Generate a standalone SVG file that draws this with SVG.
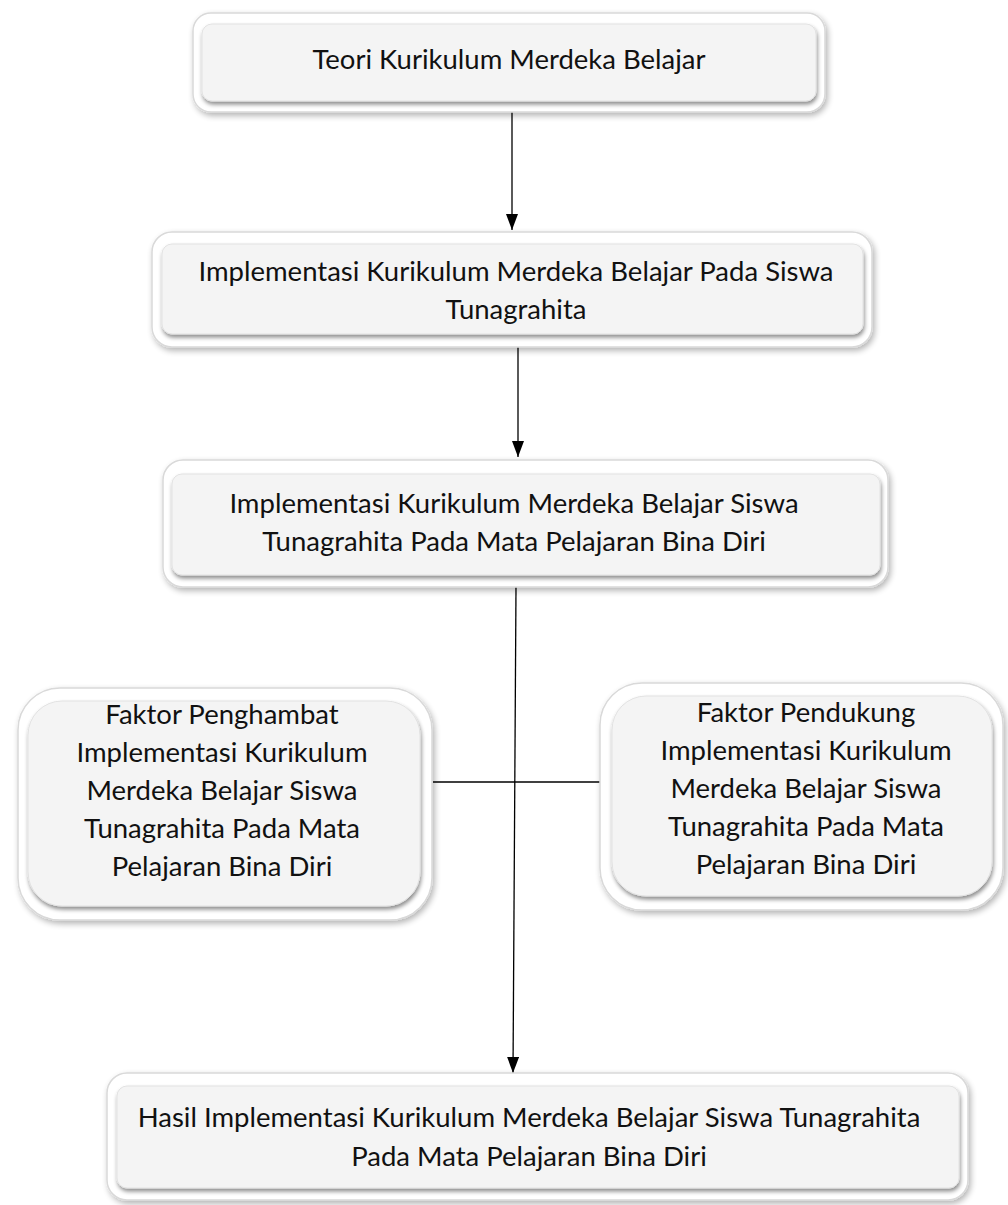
<svg xmlns="http://www.w3.org/2000/svg" width="1008" height="1205" viewBox="0 0 1008 1205">
<defs>
<filter id="outerSh" x="-10%" y="-10%" width="120%" height="130%">
<feGaussianBlur in="SourceAlpha" stdDeviation="3"/>
<feOffset dx="2" dy="3" result="b"/>
<feComponentTransfer><feFuncA type="linear" slope="0.3"/></feComponentTransfer>
<feMerge><feMergeNode/><feMergeNode in="SourceGraphic"/></feMerge>
</filter>
<filter id="innerSh" x="-10%" y="-10%" width="120%" height="130%">
<feGaussianBlur in="SourceAlpha" stdDeviation="2"/>
<feOffset dx="1" dy="3" result="b"/>
<feComponentTransfer><feFuncA type="linear" slope="0.45"/></feComponentTransfer>
<feMerge><feMergeNode/><feMergeNode in="SourceGraphic"/></feMerge>
</filter>
<marker id="arr" viewBox="0 0 16 12" refX="16" refY="6" markerWidth="16" markerHeight="12" markerUnits="userSpaceOnUse" orient="auto">
<path d="M0,0 L16,6 L0,12 z" fill="#000"/>
</marker>
</defs>
<style>
.outer{fill:#ffffff;stroke:#d9d9d9;stroke-width:1.5;filter:url(#outerSh)}
.inner{fill:#f4f4f4;stroke:#e2e2e2;stroke-width:1;filter:url(#innerSh)}
.t{font-family:"Lato","Liberation Sans",sans-serif;font-size:27.5px;fill:#111;text-anchor:middle}
.c{stroke:#000;stroke-width:1.3;fill:none}
</style>
<rect width="1008" height="1205" fill="#ffffff"/>
<g id="connectors">
<line class="c" x1="512" y1="112" x2="512" y2="230" marker-end="url(#arr)"/>
<line class="c" x1="518" y1="347" x2="518" y2="457" marker-end="url(#arr)"/>
<line class="c" x1="516" y1="587" x2="513" y2="1073" marker-end="url(#arr)"/>
<line class="c" x1="433" y1="782" x2="600" y2="782"/>
</g>
<g id="n1">
<rect class="outer" x="193" y="13" width="632" height="99" rx="18"/>
<rect class="inner" x="202" y="24" width="614" height="77" rx="10"/>
<text class="t" x="509" y="69">Teori Kurikulum Merdeka Belajar</text>
</g>
<g id="n2">
<rect class="outer" x="152" y="232" width="720" height="115" rx="20"/>
<rect class="inner" x="162" y="244" width="701" height="90" rx="10"/>
<text class="t" x="516" y="281">Implementasi Kurikulum Merdeka Belajar Pada Siswa</text>
<text class="t" x="516" y="319">Tunagrahita</text>
</g>
<g id="n3">
<rect class="outer" x="163" y="460" width="725" height="127" rx="20"/>
<rect class="inner" x="172" y="474" width="708" height="101" rx="10"/>
<text class="t" x="514" y="513">Implementasi Kurikulum Merdeka Belajar Siswa</text>
<text class="t" x="514" y="551">Tunagrahita Pada Mata Pelajaran Bina Diri</text>
</g>
<g id="n4">
<rect class="outer" x="18" y="688" width="414" height="232" rx="42"/>
<rect class="inner" x="28" y="701" width="392" height="205" rx="34"/>
<text class="t" x="222" y="724">Faktor Penghambat</text>
<text class="t" x="222" y="762">Implementasi Kurikulum</text>
<text class="t" x="222" y="800">Merdeka Belajar Siswa</text>
<text class="t" x="222" y="838">Tunagrahita Pada Mata</text>
<text class="t" x="222" y="876">Pelajaran Bina Diri</text>
</g>
<g id="n5">
<rect class="outer" x="600" y="683" width="403" height="227" rx="42"/>
<rect class="inner" x="612" y="696" width="380" height="200" rx="34"/>
<text class="t" x="806" y="722">Faktor Pendukung</text>
<text class="t" x="806" y="760">Implementasi Kurikulum</text>
<text class="t" x="806" y="798">Merdeka Belajar Siswa</text>
<text class="t" x="806" y="836">Tunagrahita Pada Mata</text>
<text class="t" x="806" y="874">Pelajaran Bina Diri</text>
</g>
<g id="n6">
<rect class="outer" x="107" y="1073" width="861" height="127" rx="20"/>
<rect class="inner" x="117" y="1086" width="842" height="102" rx="10"/>
<text class="t" x="529" y="1127">Hasil Implementasi Kurikulum Merdeka Belajar Siswa Tunagrahita</text>
<text class="t" x="529" y="1166">Pada Mata Pelajaran Bina Diri</text>
</g>
</svg>
